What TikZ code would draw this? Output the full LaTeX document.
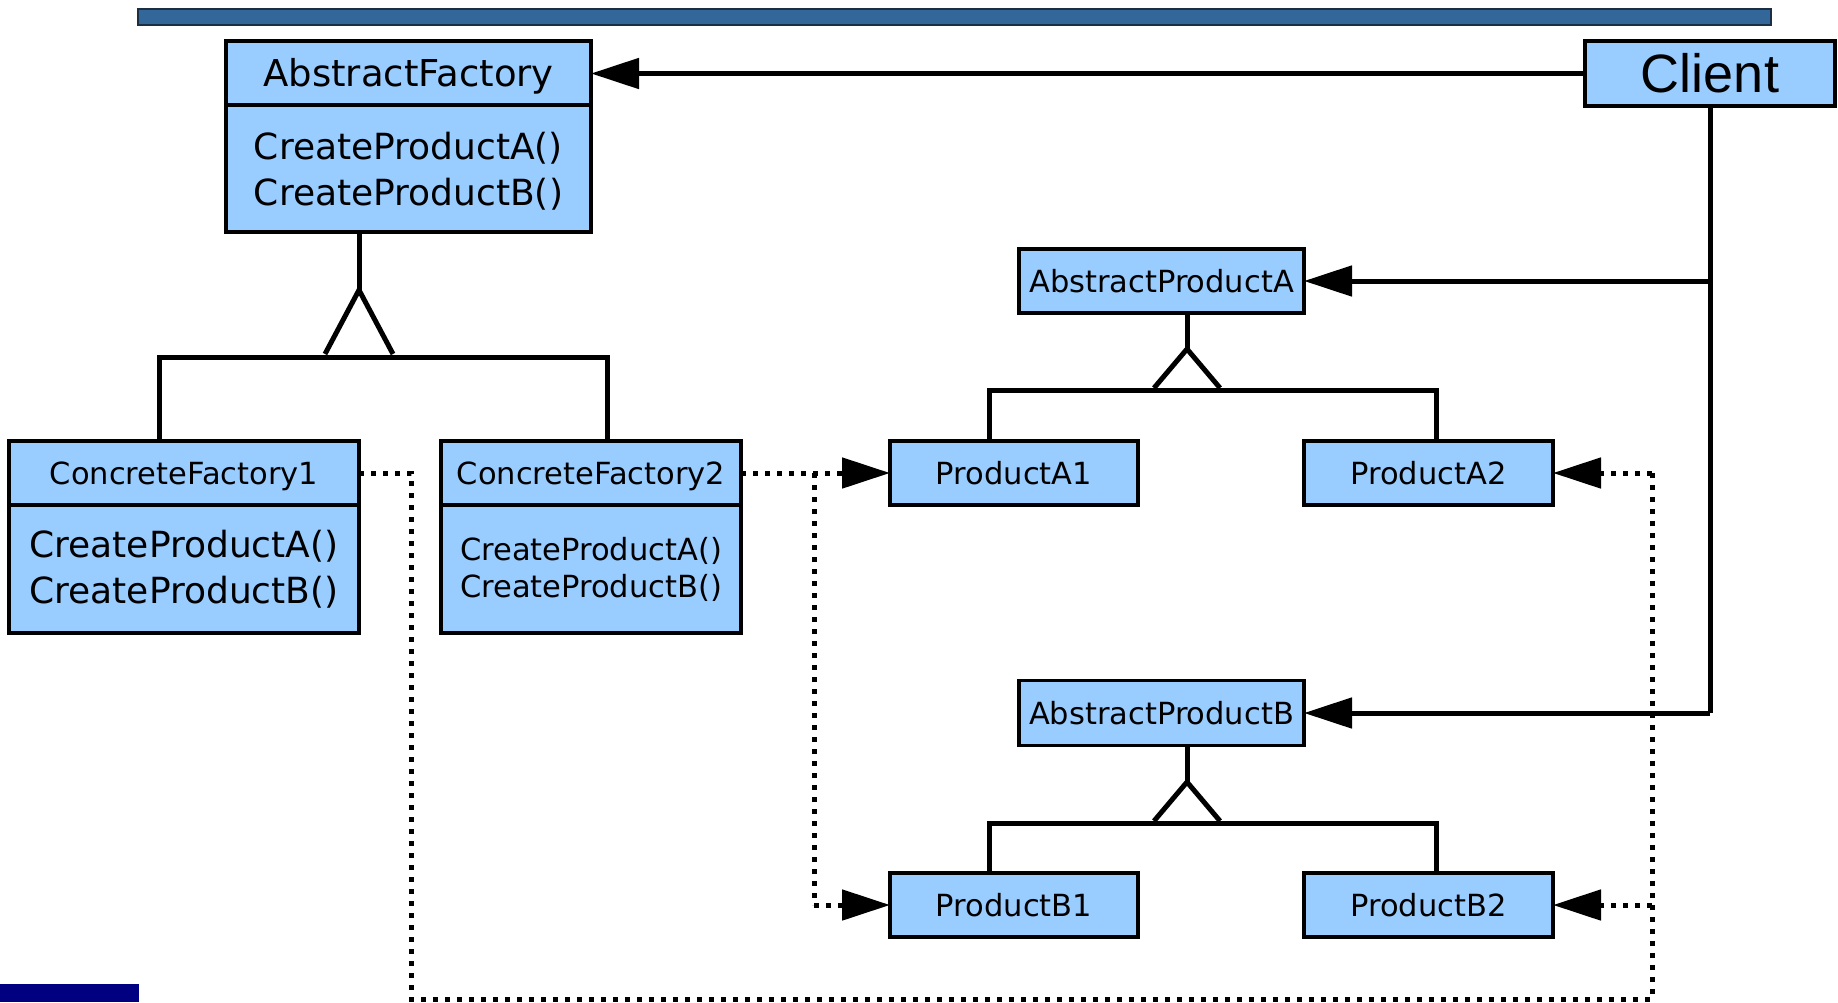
\documentclass[tikz,border=0pt]{standalone}
\usepackage{fontspec}
\setmainfont{DejaVu Sans}
\newfontfamily\clientfont{Liberation Sans}
\usetikzlibrary{arrows.meta}

\definecolor{boxblue}{HTML}{99CCFF}
\definecolor{barblue}{HTML}{336699}
\definecolor{bardark}{HTML}{1A2E44}
\definecolor{navyblock}{HTML}{000080}

\tikzset{
  cls/.style={draw=black, fill=boxblue, line width=3.5pt, inner sep=0pt,
              outer sep=0pt, align=center},
  oneline/.style={text height=#1, text depth=0pt},
  conn/.style={line width=5pt, line cap=butt},
  inh/.style={line width=5pt, line cap=butt, line join=miter},
  dots/.style={line width=5pt, line cap=butt, dash pattern=on 5pt off 7pt},
  tip/.style={-{Triangle[length=48pt,width=30pt]}},
  fA/.style={font=\fontsize{37}{44}\selectfont, oneline=27pt},
  fM/.style={font=\fontsize{36}{46}\selectfont},
  fS/.style={font=\fontsize{30.5}{37}\selectfont},
  fT/.style={font=\fontsize{30.5}{37}\selectfont, oneline=22.3pt},
}

\begin{document}
\begin{tikzpicture}[x=1pt,y=-1pt]
\useasboundingbox (0,0) rectangle (1838,1002);

% header strip and corner block
\draw[fill=barblue, draw=bardark, line width=2pt] (138,9) rectangle (1771,25);
\fill[navyblock] (0,984) rectangle (139,1002);

% abstract factory
\node[cls, fA, minimum width=365pt, minimum height=64pt] (aft) at (408.5,73) {AbstractFactory};
\node[cls, fM, minimum width=365pt, minimum height=127pt] (afb) at (408.5,168.5)
  {\rule{0pt}{33pt}CreateProductA()\\CreateProductB()};

% client
\node[cls, oneline=38.7pt, minimum width=250pt, minimum height=65pt,
      font=\clientfont\fontsize{54}{60}\selectfont] (client) at (1710,73.5) {Client};

% concrete factories
\node[cls, fT, minimum width=350pt, minimum height=64pt] (cf1t) at (184,473) {ConcreteFactory1};
\node[cls, fM, minimum width=350pt, minimum height=128pt] (cf1b) at (184,569)
  {CreateProductA()\\CreateProductB()};
\node[cls, fT, minimum width=300pt, minimum height=64pt] (cf2t) at (591,473) {ConcreteFactory2};
\node[cls, fS, minimum width=300pt, minimum height=128pt] (cf2b) at (591,569)
  {CreateProductA()\\CreateProductB()};

% products
\node[cls, fT, minimum width=285pt, minimum height=64pt] (apa) at (1161.5,281) {AbstractProductA};
\node[cls, fT, minimum width=248pt, minimum height=64pt] (pa1) at (1014,473) {ProductA1};
\node[cls, fT, minimum width=249pt, minimum height=64pt] (pa2) at (1428.5,473) {ProductA2};
\node[cls, fT, minimum width=285pt, minimum height=65pt] (apb) at (1161.5,713) {AbstractProductB};
\node[cls, fT, minimum width=248pt, minimum height=64pt] (pb1) at (1014,905) {ProductB1};
\node[cls, fT, minimum width=249pt, minimum height=64pt] (pb2) at (1428.5,905) {ProductB2};

% client associations
\draw[conn, tip] (client.west) -- (client.west -| aft.east);
\coordinate (cA) at (client.south |- apa.east);
\coordinate (cB) at (client.south |- apb.east);
\draw[conn, line join=miter] (client.south) -- (cB);
\draw[conn, tip] (cA) -- (apa.east);
\draw[conn, tip] (cB) -- (apb.east);

% inheritance: factories
\coordinate (afApex) at (359,290);
\coordinate (afL) at (159,357);
\coordinate (afR) at (607,357);
\draw[inh] (afApex |- afb.south) -- (afApex);
\draw[inh] ([shift={(-34,64)}]afApex) -- (afApex) -- ([shift={(34,64)}]afApex);
\draw[inh] (afL |- cf1t.north) -- (afL) -- (afR) -- (afR |- cf2t.north);

% inheritance: product A
\coordinate (paApex) at (1187,349);
\coordinate (paL) at (989,390);
\coordinate (paR) at (1436,390);
\draw[inh] (paApex |- apa.south) -- (paApex);
\draw[inh] ([shift={(-33,39)}]paApex) -- (paApex) -- ([shift={(33,39)}]paApex);
\draw[inh] (paL |- pa1.north) -- (paL) -- (paR) -- (paR |- pa2.north);

% inheritance: product B
\coordinate (pbApex) at (1187,782);
\coordinate (pbL) at (989,823);
\coordinate (pbR) at (1436,823);
\draw[inh] (pbApex |- apb.south) -- (pbApex);
\draw[inh] ([shift={(-33,39)}]pbApex) -- (pbApex) -- ([shift={(33,39)}]pbApex);
\draw[inh] (pbL |- pb1.north) -- (pbL) -- (pbR) -- (pbR |- pb2.north);

% creation dependencies
\coordinate (dL) at (411,999);
\coordinate (dR) at (1652,999);
\coordinate (dM) at (814,473);
\draw[dots] (cf1t.east) -| (dL) -- (dR) -- (dR |- pa2.east);
\draw[dots, tip] (dR |- pa2.east) -- (pa2.east);
\draw[dots, tip] (dR |- pb2.east) -- (pb2.east);
\draw[dots, tip] (cf2t.east) -- (pa1.west);
\draw[dots] (dM) -- (dM |- pb1.west);
\draw[dots, tip] (dM |- pb1.west) -- (pb1.west);
\end{tikzpicture}
\end{document}
